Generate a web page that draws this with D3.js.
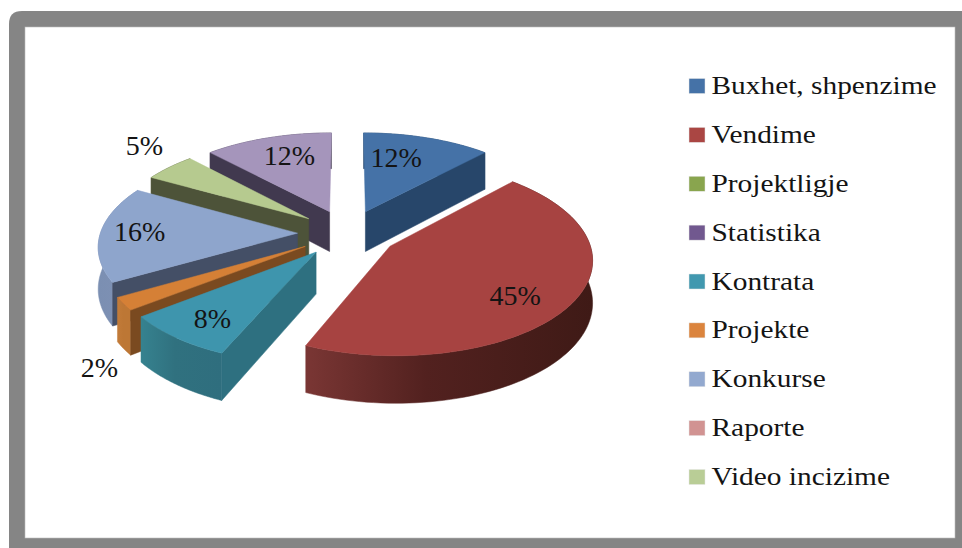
<!DOCTYPE html>
<html><head><meta charset="utf-8">
<script src="https://cdn.jsdelivr.net/npm/d3@7/dist/d3.min.js"></script>
<style>html,body{margin:0;padding:0;background:#fff}svg{display:block}text{font-family:"Liberation Serif",serif;fill:#141414}</style>
</head><body><svg id="c" width="962" height="548"></svg>
<script>
// Data
const legendLabels = ["Buxhet, shpenzime","Vendime","Projektligje","Statistika","Kontrata","Projekte","Konkurse","Raporte","Video incizime"];
const sliceValues  = [12, 44.5, 0, 0, 8, 2.2, 16.4, 0, 4.9, 12];
// Styles
const legendColors = ["#4572a7","#aa4643","#89a54e","#71588f","#4198af","#db843d","#93a9cf","#d19392","#b9cd96","#a99bbd"];
const topColors    = ["#4572a7","#a74341","#89a54e","#71588f","#3e95ad","#d58036","#8ea5cc","#d19392","#b6ca8f","#a595bb"];
const faceColors   = ["#27466a","#6a2c2a","#55652f","#453657","#2e7080","#7a4a20","#444f66","#7f5a59","#4d5339","#41394f"];
const wallLeft     = ["#27466a","#7a3634","#55652f","#453657","#36828f","#c27b39","#7b8fb2","#7f5a59","#4d5339","#41394f"];
const wallMid      = ["#27466a","#52211f","#55652f","#453657","#30717f","#bd7735","#7d90b3","#7f5a59","#4d5339","#41394f"];
const wallRight    = ["#27466a","#3f1a16","#55652f","#453657","#2f6e7e","#bd7735","#7d90b3","#7f5a59","#4d5339","#41394f"];
// Data-label placement around the pie centre (degrees clockwise from 12 o'clock, disc units)
const labelBearing = [17, 128.5, 0, 0, 216.6, 221, 270.5, 0, 312.2, 340.4];
const labelRadius  = [184, 198, 0, 0, 204, 322, 208, 0, 309, 192];

const svg = d3.select("#c");
// Frame
svg.append("path").attr("fill","#858585")
  .attr("d","M9 24 Q9 11 22 11 H962 V548 H9 Z");
svg.append("rect").attr("x",25).attr("y",27).attr("width",930).attr("height",511)
  .attr("fill","#fff").attr("stroke","#bdbdbd").attr("stroke-width",0.6);

// 3-D projection of the disc
const cx = 347.5, cy = 233, R = 197, tilt = 0.472, persp = 0.00061, depth = 41, pull = 50, N = 90;
const scaleAt = z => 1 / (1 - persp * z);
const project = (X, Z, h = 0) => {
  const s = scaleAt(Z);
  return [cx + X * s, cy + tilt * Z * s + h * s];
};
const pie = d3.pie().sort(null).value(d => d);
const arcs = pie(sliceValues).map((a, i) => ({...a, i}));
const line = d3.line();
const defs = svg.append("defs");

const slices = arcs.filter(a => a.value > 0).map(a => {
  const mid = (a.startAngle + a.endAngle) / 2;
  const ox = pull * Math.sin(mid), oz = -pull * Math.cos(mid);
  return {...a, mid, ox, oz, order: oz - 0.6 * R * Math.cos(mid)};
}).sort((p, q) => p.order - q.order);

const plot = svg.append("g");
slices.forEach(d => {
  const at = (t, r, h) => project(d.ox + r * Math.sin(t), d.oz - r * Math.cos(t), h);
  const ts = d3.range(N + 1).map(k => d.startAngle + (d.endAngle - d.startAngle) * k / N);
  const top = ts.map(t => at(t, R, 0));
  const bot = ts.map(t => at(t, R, depth));
  const apex = at(0, 0, 0), apexB = at(0, 0, depth);
  const g = plot.append("g");
  // curved wall
  const xs = d3.extent(top, p => p[0]);
  const id = "w" + d.i;
  const gr = defs.append("linearGradient").attr("id", id).attr("gradientUnits", "userSpaceOnUse")
    .attr("x1", xs[0]).attr("x2", xs[1]).attr("y1", 0).attr("y2", 0);
  gr.append("stop").attr("offset", 0).attr("stop-color", wallLeft[d.i]);
  gr.append("stop").attr("offset", .42).attr("stop-color", wallMid[d.i]);
  gr.append("stop").attr("offset", 1).attr("stop-color", wallRight[d.i]);
  g.append("path").attr("d", line(top.concat(bot.slice().reverse())) + "Z")
    .attr("fill", `url(#${id})`).attr("stroke", `url(#${id})`).attr("stroke-width", .5);
  // cut faces that look toward the viewer
  [[top[0], bot[0], d.startAngle - Math.PI / 2], [top[N], bot[N], d.endAngle + Math.PI / 2]].forEach(([p, q, normal]) => {
    if (-Math.cos(normal) <= 0.001) return;
    g.append("path").attr("d", line([apex, p, q, apexB]) + "Z")
      .attr("fill", faceColors[d.i]).attr("stroke", faceColors[d.i]).attr("stroke-width", .5);
  });
  // top face
  g.append("path").attr("d", line([apex].concat(top)) + "Z")
    .attr("fill", topColors[d.i]).attr("stroke", topColors[d.i]).attr("stroke-width", .5);
});

// Percent labels
const fmt = d3.format(".0f");
const total = d3.sum(sliceValues);
svg.append("g").selectAll("text").data(arcs.filter(a => a.value > 0)).join("text")
  .attr("text-anchor", "middle").attr("dy", "0.33em").attr("font-size", 28)
  .attr("x", d => {
    const b = labelBearing[d.i] * Math.PI / 180, r = labelRadius[d.i];
    return project(r * Math.sin(b), -r * Math.cos(b))[0];
  })
  .attr("y", d => {
    const b = labelBearing[d.i] * Math.PI / 180, r = labelRadius[d.i];
    return project(r * Math.sin(b), -r * Math.cos(b))[1];
  })
  .text(d => fmt(d.value / total * 100) + "%");

// Legend
const ly = d3.scalePoint().domain(legendLabels).range([86, 477]);
const lg = svg.append("g").selectAll("g").data(legendLabels).join("g")
  .attr("transform", d => `translate(689,${ly(d)})`);
lg.append("rect").attr("x", 0).attr("y", -7.5).attr("width", 16).attr("height", 15)
  .attr("fill", (d, i) => legendColors[i]).attr("stroke", "#e6e6e6").attr("stroke-width", .5);
lg.append("text").attr("transform", "translate(22.5,8) scale(1.13,1)").attr("font-size", 26).text(d => d);
</script></body></html>
